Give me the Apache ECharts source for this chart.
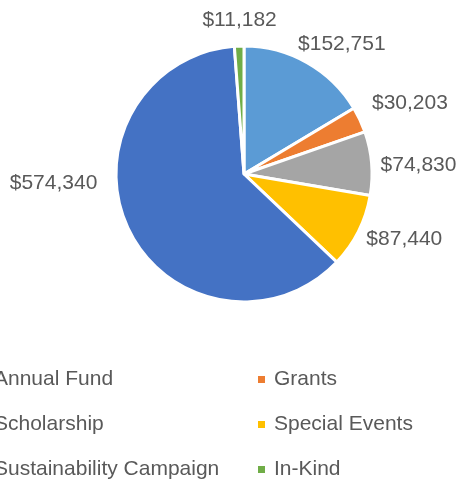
<!DOCTYPE html>
<html>
<head>
<meta charset="utf-8">
<script src="https://cdn.jsdelivr.net/npm/echarts@6/dist/echarts.min.js"></script>
<style>
  html, body { margin: 0; padding: 0; background: #fff; }
  #main { width: 460px; height: 480px; }
</style>
</head>
<body>
<div id="main"></div>
<script>
// funding sources, in the order the slices run clockwise from 12 o'clock
var sources = ['Annual Fund', 'Grants', 'Scholarship', 'Special Events', 'Sustainability Campaign', 'In-Kind'];
var amounts = [152751, 30203, 74830, 87440, 574340, 11182];
var colors = ['#5B9BD5', '#ED7D31', '#A5A5A5', '#FFC000', '#4472C4', '#70AD47'];
// nudges so the value labels sit where the original placed them (best fit)
var labelShift = [[-19, -10], [-2, -12], [-6, 3], [-6, 3], [-17, -50], [43, -16]];

var leftCol = [sources[0], sources[2], sources[4]];
var rightCol = [sources[1], sources[3], sources[5]];

function money(v) {
    return '$' + v.toString().replace(/\B(?=(\d{3})+(?!\d))/g, ',');
}

var pieData = sources.map(function (name, i) {
    return {
        name: name,
        value: amounts[i],
        itemStyle: { color: colors[i] },
        label: { offset: labelShift[i] }
    };
});

var legendText = {
    color: '#595959', fontSize: 21, fontFamily: 'Liberation Sans',
    padding: [0, 0, 0, 3]
};

var chart = echarts.init(document.getElementById('main'));
chart.setOption({
    animation: false,
    legend: [
        {
            data: leftCol, orient: 'vertical', left: -24, top: 369, height: 140, padding: 0,
            icon: 'rect', itemWidth: 9, itemHeight: 9, itemGap: 24,
            textStyle: legendText
        },
        {
            data: rightCol, orient: 'vertical', left: 256, top: 369, height: 140, padding: 0,
            icon: 'rect', itemWidth: 9, itemHeight: 9, itemGap: 24,
            textStyle: legendText
        }
    ],
    series: [{
        type: 'pie',
        center: [244, 174],
        radius: 128,
        startAngle: 90,
        clockwise: true,
        avoidLabelOverlap: false,
        itemStyle: { borderColor: '#fff', borderWidth: 3 },
        label: {
            show: true,
            position: 'outside',
            formatter: function (p) { return money(p.value); },
            color: '#595959',
            fontSize: 21,
            fontFamily: 'Liberation Sans'
        },
        labelLine: { show: false, length: 10, length2: 0 },
        data: pieData
    }]
});
</script>
</body>
</html>
